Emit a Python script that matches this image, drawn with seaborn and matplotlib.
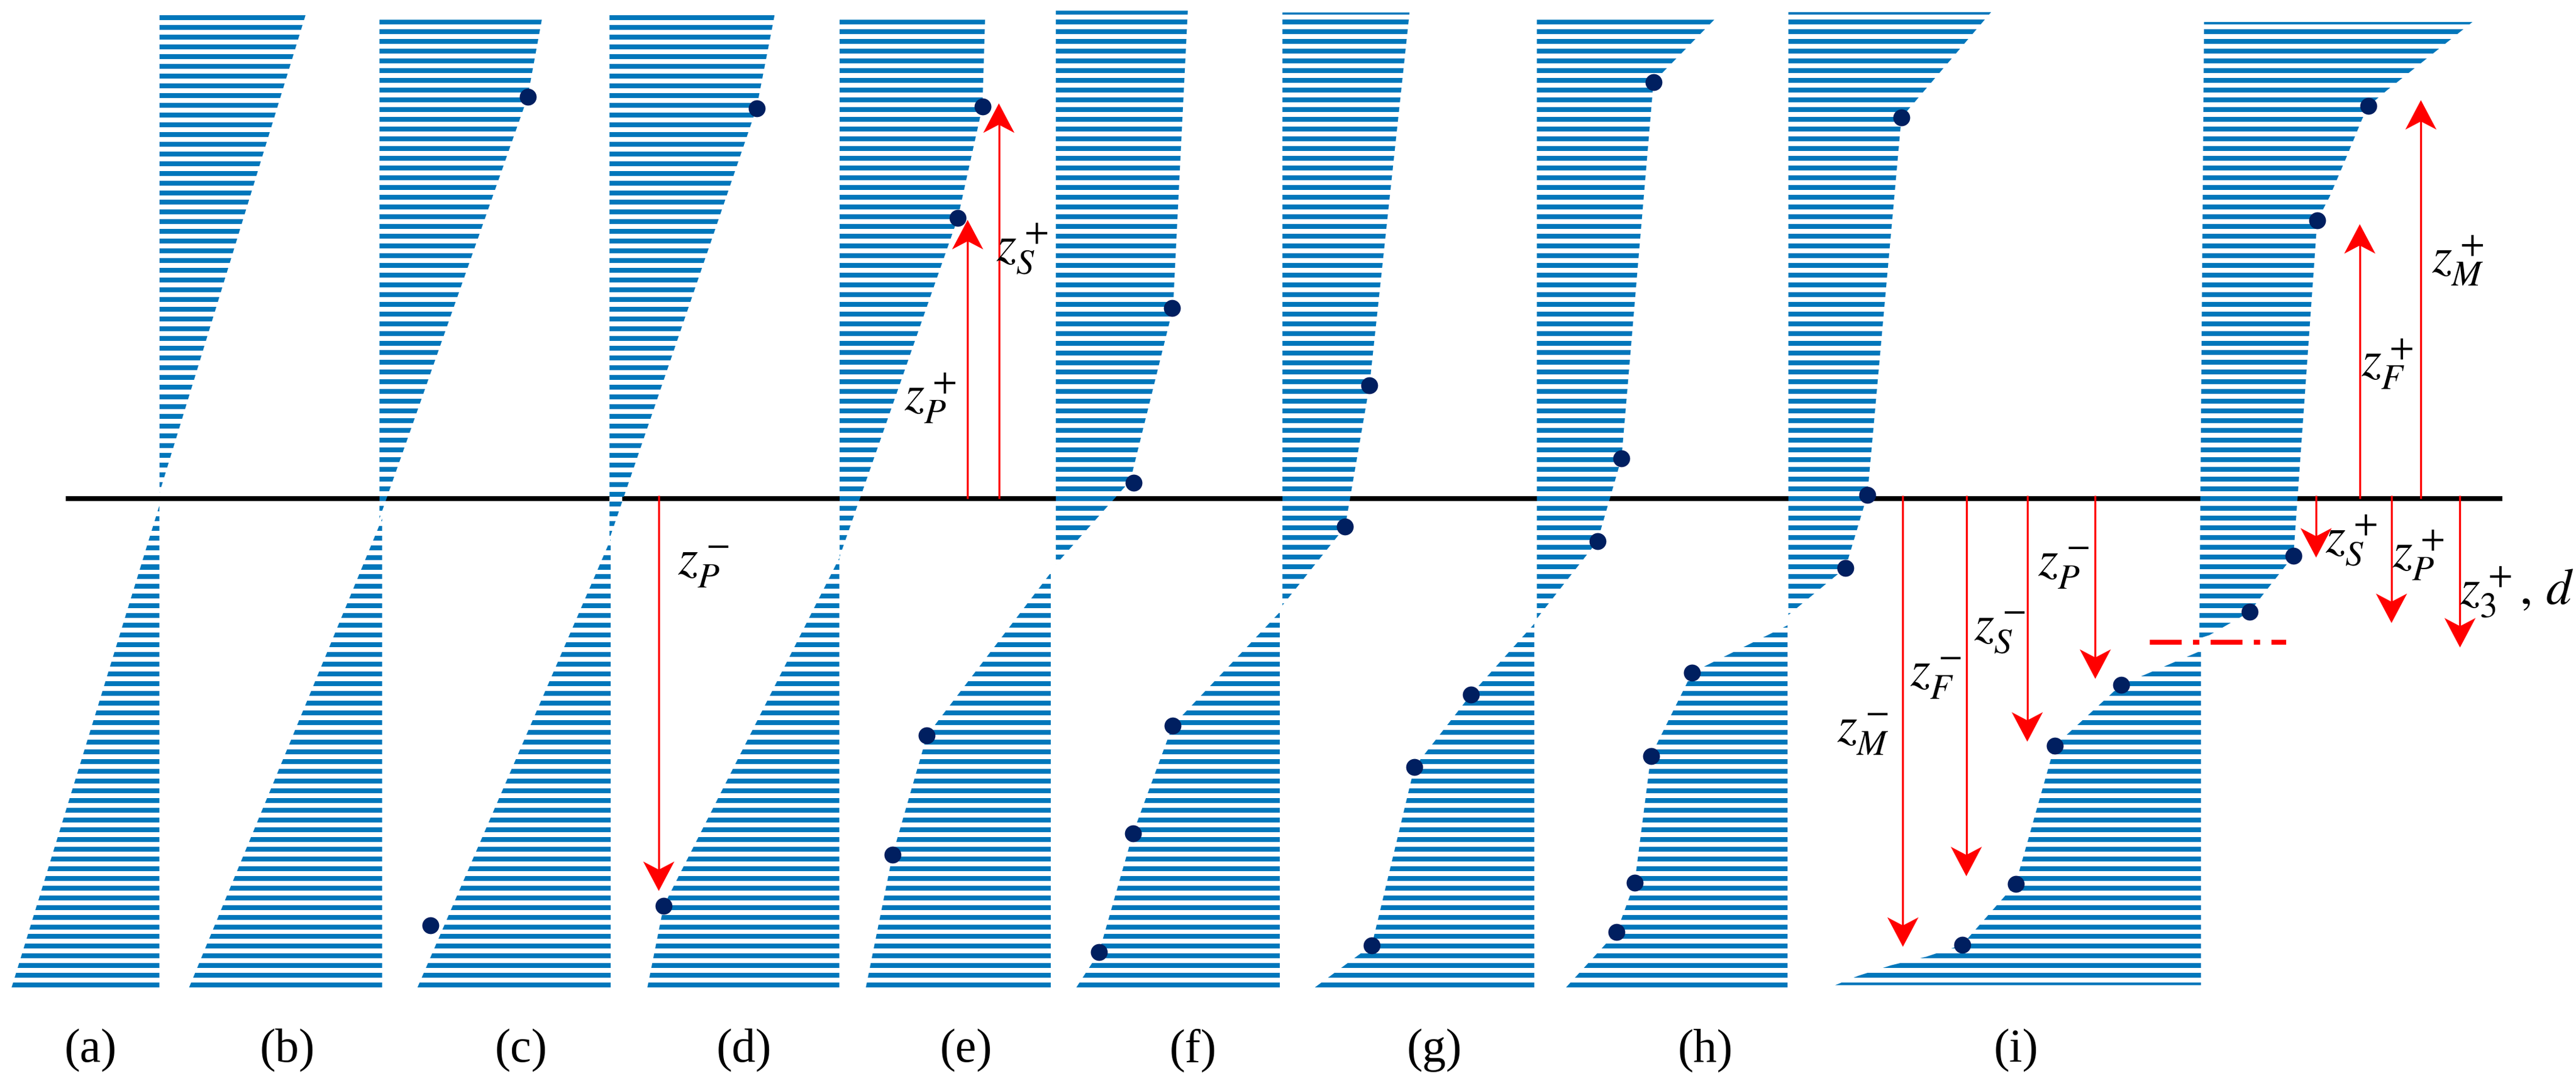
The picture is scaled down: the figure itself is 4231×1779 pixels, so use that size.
import numpy as np
import pandas as pd
import matplotlib
matplotlib.use("Agg")
import matplotlib.pyplot as plt
from matplotlib.patches import Polygon
import seaborn as sns

sns.set_theme(style="white")
plt.rcParams["font.family"] = ["Liberation Serif", "DejaVu Serif"]
plt.rcParams["mathtext.fontset"] = "stix"

BAR = "#0077BB"
DOT = "#001F60"
RED = "#FF0000"

# Profiles: (y, free-edge x) pairs
upper_base_top = [97, 231, 371, 511, 642.7, 780.6, 935.5, 1088.6, 1341.6]
upper_base_end = [97, 231, 371, 511, 642.7, 780.6, 935.5, 1088.6, 1338.7]
upper_first_row = [10.76, 13.5, 10.76, 13.5, 7.6, 7.6, 13.5, 7.6, 13.5]
upper_edges = [
    [(9.2, 186), (300.6, 97)],
    [(12, 329.8), (59.1, 321.2), (316, 231)],
    [(9.2, 471.5), (66, 460.5), (328.4, 371)],
    [(12, 599.6), (65, 598), (133, 583), (339.5, 511)],
    [(6.5, 723), (187.8, 714), (293, 688), (344, 642.7)],
    [(7.6, 858), (235, 833.6), (321, 818.8), (369, 780.6)],
    [(12, 1043.5), (49.9, 1006.5), (279.3, 987), (329.8, 972.4), (377, 935.5)],
    [(7.4, 1212), (71.7, 1157.4), (301.5, 1136.7), (346, 1123.4), (374.8, 1088.6)],
    [(13.4, 1505), (55, 1453), (64.6, 1441.7), (72.7, 1437.8), (97, 1427.8), (120, 1418),
     (134.4, 1410.5), (338.7, 1396), (373, 1369.2), (387, 1345), (389, 1338.7)],
]
lower_bases = [97, 232.6, 371.8, 510.9, 639.6, 779, 934, 1088.2, 1339.7]
lower_edges = [
    [(308, 97), (602, 7)],
    [(316, 232.6), (602, 115)],
    [(328.4, 371.8), (602, 254)],
    [(340, 510.9), (552, 404), (602, 394)],
    [(349, 639.6), (448.2, 564.2), (520.9, 543.3), (602, 527)],
    [(373, 779), (442.3, 713.7), (507.9, 689.6), (580.3, 669), (602, 655)],
    [(380, 934), (423.3, 895.3), (467.6, 860.9), (576, 835), (602, 800)],
    [(381, 1088.2), (409.8, 1030), (460.6, 1004.9), (538, 995), (568, 984), (602, 953)],
    [(396.6, 1339.7), (417.4, 1291), (454.6, 1250.6), (538.6, 1226.9), (575.8, 1194.3),
     (583, 1172.6), (588.3, 1151), (594.7, 1131), (600.4, 1117)],
]

dot_x = [321.2, 460.5, 598, 583, 713.5, 689.9, 833.6, 818.8, 1006.5, 987, 972.4, 1157.4, 1136.7, 1123.4,
         1441.7, 1410.5, 1396, 1369.2, 262, 404, 564.2, 543.3, 713.7, 689.6, 669, 895.3, 860.9, 835,
         1030, 1004.9, 995, 984, 1291, 1250.6, 1226.9, 1194.3]
dot_y = [59.1, 66, 65, 133, 187.8, 294.3, 235, 321, 49.9, 279.3, 329.8, 71.7, 301.5, 346,
         64.6, 134.4, 338.7, 373, 564, 552, 448.2, 520.9, 442.3, 507.9, 580.3, 423.3, 467.6, 576,
         409.8, 460.6, 538, 568, 417.4, 454.6, 538.6, 575.8]

arrow_x = [401, 589, 608, 1158.3, 1196.9, 1234, 1275.4, 1409.8, 1436.4, 1455.7, 1473.6, 1497.4]
arrow_tip = [543, 134, 63, 577, 534, 452, 413.7, 339.8, 136.6, 379.7, 61, 394.6]
line_y = 303.9

ref_x = [1308.7, 1391.7]
ref_y = [391.4, 391.4]
base_x = [40, 1523]
gap_left = [371]
gap_right = [378.6]

label_text = [r"$z_P^-$", r"$z_P^+$", r"$z_S^+$", r"$z_M^-$", r"$z_F^-$", r"$z_S^-$", r"$z_P^-$",
              r"$z_F^+$", r"$z_M^+$", r"$z_S^+$", r"$z_P^+$", r"$z_3^+,\,d$"]
label_x = [428, 566, 622, 1134, 1178, 1217, 1256, 1452.8, 1496, 1431, 1472, 1532]
label_y = [345, 243, 152, 447, 413, 385, 346, 222, 159, 329.5, 338.7, 361]

panel_names = ["(a)", "(b)", "(c)", "(d)", "(e)", "(f)", "(g)", "(h)", "(i)"]
panel_x = [55, 175, 317, 453, 588, 726, 873, 1038, 1227]
panel_y = 640

fig, ax = plt.subplots(figsize=(42.31, 17.79), dpi=100)
ax.set_position([0, 0, 1, 1])

PITCH = 5.926
THICK = 2.97

ax.plot(base_x, [line_y, line_y], color="black", lw=5.8, solid_capstyle="butt", zorder=1)
ax.barh([line_y] * len(gap_left), np.subtract(gap_right, gap_left), left=gap_left,
        height=THICK, color="white", lw=0, zorder=1.5)


def wedge(base_a, base_b, edge, rows):
    outline = [(base_a, edge[0][0])] + [(x, y) for y, x in edge] + [(base_b, edge[-1][0])]
    poly = Polygon(outline, closed=True, transform=ax.transData, fc="none", ec="none")
    ax.add_patch(poly)
    xs = [p[0] for p in outline]
    bars = ax.barh(rows, max(xs) - min(xs), left=min(xs), height=THICK, color=BAR, lw=0, zorder=2)
    for b in bars:
        b.set_clip_path(poly)


for a, b, first, edge in zip(upper_base_top, upper_base_end, upper_first_row, upper_edges):
    wedge(a, b, edge, np.arange(first, edge[-1][0] + 3, PITCH))

for base, edge in zip(lower_bases, lower_edges):
    wedge(base, base, edge, np.arange(600.4, edge[0][0] - 3, -PITCH))

ax.plot(ref_x, ref_y, color=RED, lw=5.8, dashes=(6.5, 2.3, 1.3, 2.3), zorder=3)

for x, tip in zip(arrow_x, arrow_tip):
    sgn = 1 if tip > line_y else -1
    start = line_y - 2 if sgn > 0 else line_y
    ax.plot([x, x], [start, tip - sgn * 10], color=RED, lw=2.4, zorder=4, solid_capstyle="butt")
    head = [(x, tip), (x - 9.5, tip - sgn * 18), (x, tip - sgn * 13), (x + 9.5, tip - sgn * 18)]
    ax.add_patch(Polygon(head, closed=True, fc=RED, ec="none", zorder=4))

dots = pd.DataFrame({"x": dot_x, "y": dot_y})
sns.scatterplot(data=dots, x="x", y="y", ax=ax, color=DOT, s=400, linewidth=0, zorder=5, legend=False)
ax.set_xlim(0, 1568)
ax.set_ylim(660, 0)
ax.axis("off")

for t, x, y in zip(label_text, label_x, label_y):
    ax.text(x, y, t, fontsize=60, ha="center", va="center", color="black", zorder=6)

for t, x in zip(panel_names, panel_x):
    ax.text(x, panel_y, t, fontsize=56, ha="center", va="center", color="black")

fig.savefig("out.png", dpi=100, facecolor="white")
